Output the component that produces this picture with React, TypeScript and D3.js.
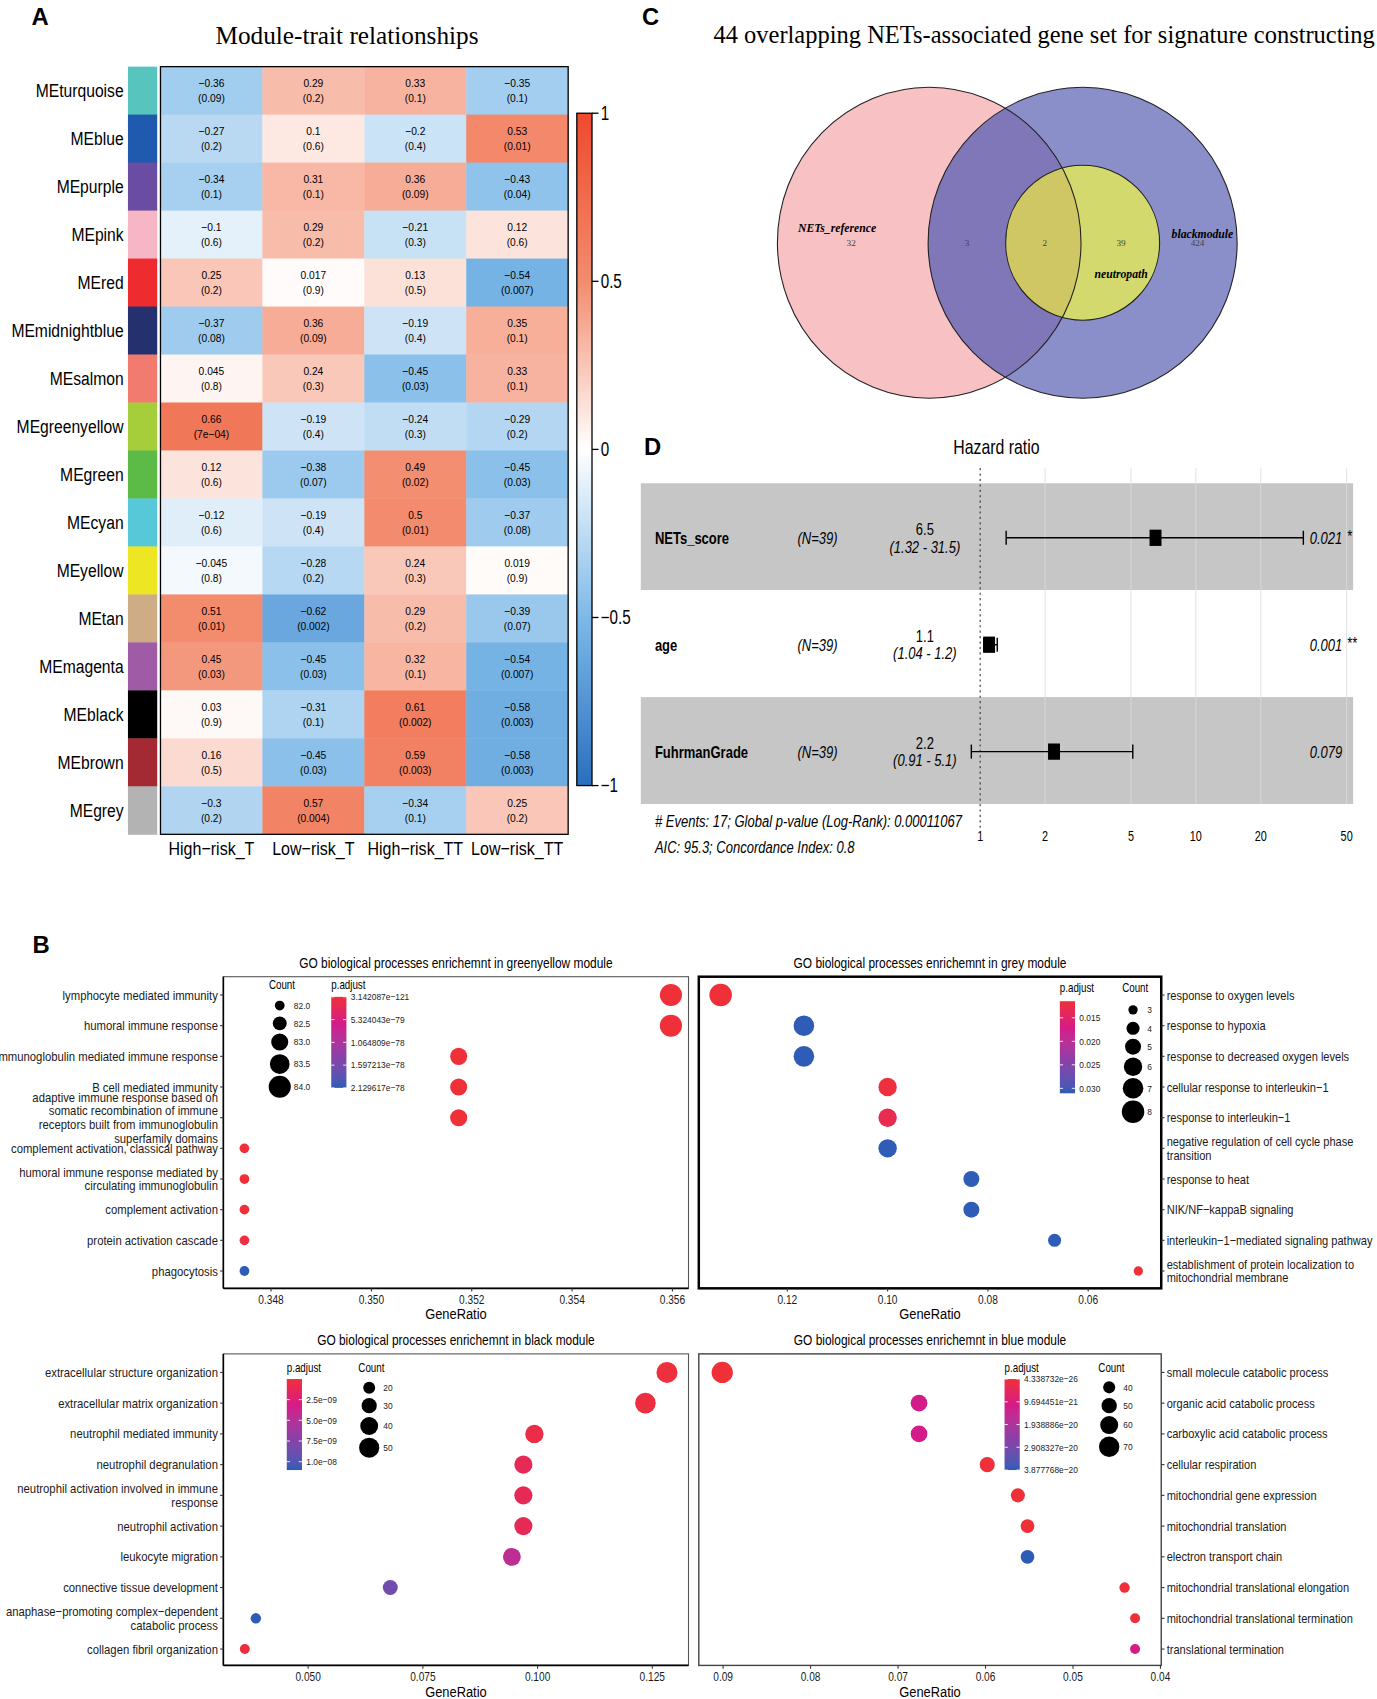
import React from "react";
import * as d3 from "d3";

const SANS = "'Liberation Sans', Arial, Helvetica, sans-serif";
const SERIF = "'Liberation Serif', 'Times New Roman', serif";
const W = 1270;
const H = 1568;

// ---------------- Panel A data ----------------
const modules = ["MEturquoise", "MEblue", "MEpurple", "MEpink", "MEred", "MEmidnightblue", "MEsalmon", "MEgreenyellow", "MEgreen", "MEcyan", "MEyellow", "MEtan", "MEmagenta", "MEblack", "MEbrown", "MEgrey"];
const moduleColors = ["#57C4BE", "#1F5AAE", "#6A4CA2", "#F6B6C6", "#EE2B2E", "#25306E", "#F27B70", "#A6CE3A", "#5CBA47", "#57C8D8", "#EDE623", "#CEAD86", "#A05BA6", "#000000", "#A32A32", "#B3B3B3"];
const traits = ["High−risk_T", "Low−risk_T", "High−risk_TT", "Low−risk_TT"];
const corValues = [
  [-0.36, 0.29, 0.33, -0.35],
  [-0.27, 0.1, -0.2, 0.53],
  [-0.34, 0.31, 0.36, -0.43],
  [-0.1, 0.29, -0.21, 0.12],
  [0.25, 0.017, 0.13, -0.54],
  [-0.37, 0.36, -0.19, 0.35],
  [0.045, 0.24, -0.45, 0.33],
  [0.66, -0.19, -0.24, -0.29],
  [0.12, -0.38, 0.49, -0.45],
  [-0.12, -0.19, 0.5, -0.37],
  [-0.045, -0.28, 0.24, 0.019],
  [0.51, -0.62, 0.29, -0.39],
  [0.45, -0.45, 0.32, -0.54],
  [0.03, -0.31, 0.61, -0.58],
  [0.16, -0.45, 0.59, -0.58],
  [-0.3, 0.57, -0.34, 0.25],
];
const pValues = [
  ["0.09", "0.2", "0.1", "0.1"],
  ["0.2", "0.6", "0.4", "0.01"],
  ["0.1", "0.1", "0.09", "0.04"],
  ["0.6", "0.2", "0.3", "0.6"],
  ["0.2", "0.9", "0.5", "0.007"],
  ["0.08", "0.09", "0.4", "0.1"],
  ["0.8", "0.3", "0.03", "0.1"],
  ["7e−04", "0.4", "0.3", "0.2"],
  ["0.6", "0.07", "0.02", "0.03"],
  ["0.6", "0.4", "0.01", "0.08"],
  ["0.8", "0.2", "0.3", "0.9"],
  ["0.01", "0.002", "0.2", "0.07"],
  ["0.03", "0.03", "0.1", "0.007"],
  ["0.9", "0.1", "0.002", "0.003"],
  ["0.5", "0.03", "0.003", "0.003"],
  ["0.2", "0.004", "0.1", "0.2"],
];
const heatLegendTicks = [1, 0.5, 0, -0.5, -1];

// ---------------- Panel C data ----------------
const vennSets = ["NETs_reference", "blackmodule", "neutropath"];
const vennCounts = { refOnly: 32, refBlack: 3, all: 2, blackNeutro: 39, blackOnly: 424 };

// ---------------- Panel D data ----------------
const forestVars = ["NETs_score", "age", "FuhrmanGrade"];
const forestN = [39, 39, 39];
const forestHR = [6.5, 1.1, 2.2];
const forestLo = [1.32, 1.04, 0.91];
const forestHi = [31.5, 1.2, 5.1];
const forestP = ["0.021", "0.001", "0.079"];
const forestStars = ["*", "**", ""];
const forestTicks = [1, 2, 5, 10, 20, 50];
const forestFooter = ["# Events: 17; Global p-value (Log-Rank): 0.00011067", "AIC: 95.3; Concordance Index: 0.8"];

// ---------------- Panel B data ----------------
const gyTerms = [
  "lymphocyte mediated immunity",
  "humoral immune response",
  "immunoglobulin mediated immune response",
  "B cell mediated immunity",
  "adaptive immune response based on\nsomatic recombination of immune\nreceptors built from immunoglobulin\nsuperfamily domains",
  "complement activation, classical pathway",
  "humoral immune response mediated by\ncirculating immunoglobulin",
  "complement activation",
  "protein activation cascade",
  "phagocytosis",
];
const gyRatio = [0.35597, 0.35597, 0.35174, 0.35174, 0.35174, 0.34747, 0.34747, 0.34747, 0.34747, 0.34747];
const gyCount = [84, 84, 83, 83, 83, 82, 82, 82, 82, 82];
const gyPadj = [3.142087e-121, 1.2e-110, 4.0e-100, 6.0e-98, 1.0e-95, 2.0e-85, 4.0e-84, 5.0e-82, 7.0e-80, 2.129617e-78];
const gyTicks = [0.348, 0.35, 0.352, 0.354, 0.356];
const gyCountBreaks = [82, 82.5, 83, 83.5, 84];
const gyPBreaks = [3.142087e-121, 5.324043e-79, 1.064809e-78, 1.597213e-78, 2.129617e-78];

const greyTerms = [
  "response to oxygen levels",
  "response to hypoxia",
  "response to decreased oxygen levels",
  "cellular response to interleukin−1",
  "response to interleukin−1",
  "negative regulation of cell cycle phase\ntransition",
  "response to heat",
  "NIK/NF−kappaB signaling",
  "interleukin−1−mediated signaling pathway",
  "establishment of protein localization to\nmitochondrial membrane",
];
const greyRatio = [0.1333, 0.1167, 0.1167, 0.1, 0.1, 0.1, 0.0833, 0.0833, 0.0667, 0.05];
const greyCount = [8, 7, 7, 6, 6, 6, 5, 5, 4, 3];
const greyPadj = [0.0115, 0.031, 0.031, 0.0118, 0.013, 0.031, 0.031, 0.031, 0.031, 0.0115];
const greyTicks = [0.12, 0.1, 0.08, 0.06];
const greyCountBreaks = [3, 4, 5, 6, 7, 8];
const greyPBreaks = [0.015, 0.02, 0.025, 0.03];

const blackTerms = [
  "extracellular structure organization",
  "extracellular matrix organization",
  "neutrophil mediated immunity",
  "neutrophil degranulation",
  "neutrophil activation involved in immune\nresponse",
  "neutrophil activation",
  "leukocyte migration",
  "connective tissue development",
  "anaphase−promoting complex−dependent\ncatabolic process",
  "collagen fibril organization",
];
const blackRatio = [0.1282, 0.1235, 0.0993, 0.0969, 0.0969, 0.0969, 0.0944, 0.0679, 0.0386, 0.0362];
const blackCount = [54, 52, 42, 41, 41, 41, 40, 29, 16, 15];
const blackPadj = [1.5e-10, 3.0e-10, 5.5e-10, 1.1e-9, 1.1e-9, 1.1e-9, 4.6e-9, 8.6e-9, 1.1e-8, 2.5e-10];
const blackTicks = [0.05, 0.075, 0.1, 0.125];
const blackCountBreaks = [20, 30, 40, 50];
const blackPBreaks = [2.5e-9, 5.0e-9, 7.5e-9, 1.0e-8];

const blueTerms = [
  "small molecule catabolic process",
  "organic acid catabolic process",
  "carboxylic acid catabolic process",
  "cellular respiration",
  "mitochondrial gene expression",
  "mitochondrial translation",
  "electron transport chain",
  "mitochondrial translational elongation",
  "mitochondrial translational termination",
  "translational termination",
];
const blueRatio = [0.0901, 0.0676, 0.0676, 0.0598, 0.0563, 0.0552, 0.0552, 0.0441, 0.0429, 0.0429];
const blueCount = [74, 55, 55, 49, 46, 45, 45, 36, 35, 35];
const bluePadj = [4.338732e-26, 1.16e-20, 1.16e-20, 1.0e-22, 1.0e-24, 1.0e-24, 3.877768e-20, 1.0e-22, 1.0e-22, 1.09e-20];
const blueTicks = [0.09, 0.08, 0.07, 0.06, 0.05, 0.04];
const blueCountBreaks = [40, 50, 60, 70];
const bluePBreaks = [4.338732e-26, 9.694451e-21, 1.938886e-20, 2.908327e-20, 3.877768e-20];

// ---------------- helpers ----------------
type TxtProps = {
  x: number; y: number; sx?: number; size: number; anchor?: string; weight?: string | number;
  italic?: boolean; fill?: string; family?: string; children: React.ReactNode;
};
function Txt({ x, y, sx = 1, size, anchor = "start", weight, italic, fill = "#000", family = SANS, children }: TxtProps) {
  return (
    <text
      transform={`translate(${x},${y}) scale(${sx},1)`}
      fontSize={size}
      textAnchor={anchor as any}
      fontWeight={weight as any}
      fontStyle={italic ? "italic" : "normal"}
      fill={fill}
      fontFamily={family}
      dy="0.35em"
    >
      {children}
    </text>
  );
}

const minus = (s: string) => s.replace(/-/g, "−");
const rExp = (digits: number) => (v: number) => {
  const [m, e] = v.toExponential(digits).split("e");
  const ev = parseInt(e, 10);
  const sign = ev < 0 ? "−" : "+";
  const abs = Math.abs(ev);
  return `${m}e${sign}${abs < 10 ? "0" + abs : abs}`;
};

const goColor = d3
  .scaleLinear<string>()
  .domain([0, 0.3, 0.65, 1])
  .range(["#EF3039", "#D41B8A", "#8A3FA8", "#2D5CB6"])
  .interpolate(d3.interpolateLab);

// ---------------- Panel A ----------------
function PanelA() {
  const x = d3.scaleBand<string>().domain(traits).range([148, 524]);
  const y = d3.scaleBand<string>().domain(modules).range([61.5, 770]);
  const color = d3
    .scaleLinear<string>()
    .domain([-1, -0.5, 0, 0.5, 1])
    .range(["#2A6FBE", "#7DB9E8", "#FFFFFF", "#F38C6E", "#EE4A2C"]);
  const yL = d3.scaleLinear().domain([-1, 1]).range([725, 104.5]);
  const stops = d3.range(0, 1.0001, 0.05);
  return (
    <g>
      <defs>
        <linearGradient id="heatGrad" x1="0" y1="0" x2="0" y2="1">
          {stops.map((t) => (
            <stop key={t} offset={t} stopColor={color(1 - 2 * t)} />
          ))}
        </linearGradient>
      </defs>
      <Txt x={29} y={15} size={22} weight="bold">A</Txt>
      <Txt x={320} y={32} size={23.3} anchor="middle" family={SERIF}>Module-trait relationships</Txt>
      {modules.map((m, i) => (
        <g key={m}>
          <rect x={118} y={y(m)!} width={27} height={y.bandwidth() + 0.4} fill={moduleColors[i]} />
          <Txt x={114} y={y(m)! + y.bandwidth() / 2} size={17} sx={0.85} anchor="end">{m}</Txt>
          {traits.map((t, j) => (
            <g key={t}>
              <rect x={x(t)!} y={y(m)!} width={x.bandwidth() + 0.4} height={y.bandwidth() + 0.4} fill={color(corValues[i][j])} />
              <Txt x={x(t)! + x.bandwidth() / 2} y={y(m)! + y.bandwidth() / 2 - 7} size={10.5} sx={0.9} anchor="middle">
                {minus(String(corValues[i][j]))}
              </Txt>
              <Txt x={x(t)! + x.bandwidth() / 2} y={y(m)! + y.bandwidth() / 2 + 7} size={10.5} sx={0.9} anchor="middle">
                {`(${pValues[i][j]})`}
              </Txt>
            </g>
          ))}
        </g>
      ))}
      <rect x={148} y={61.5} width={376} height={708.5} fill="none" stroke="#000" strokeWidth={1.2} />
      {traits.map((t) => (
        <Txt key={t} x={x(t)! + x.bandwidth() / 2} y={783} size={17} sx={0.87} anchor="middle">{t}</Txt>
      ))}
      <rect x={532} y={104.5} width={14} height={620.5} fill="url(#heatGrad)" stroke="#000" strokeWidth={1.2} />
      {heatLegendTicks.map((v) => (
        <g key={v}>
          <line x1={546} x2={552} y1={yL(v)} y2={yL(v)} stroke="#000" strokeWidth={1.2} />
          <Txt x={554} y={yL(v)} size={18} sx={0.78}>{minus(String(v))}</Txt>
        </g>
      ))}
    </g>
  );
}

// ---------------- Panel C ----------------
function PanelC() {
  const pink = { cx: 857, cy: 224, rx: 140, ry: 143.5 };
  const blue = { cx: 998.5, cy: 224, rx: 142.5, ry: 143.5 };
  const yel = { cx: 998.5, cy: 224, rx: 71, ry: 71.5 };
  return (
    <g>
      <defs>
        <clipPath id="clipPink">
          <ellipse {...pink} />
        </clipPath>
      </defs>
      <Txt x={592} y={15} size={22} weight="bold">C</Txt>
      <Txt x={963} y={32} size={22.6} anchor="middle" family={SERIF}>
        44 overlapping NETs-associated gene set for signature constructing
      </Txt>
      <ellipse {...pink} fill="#F8C1C4" />
      <ellipse {...blue} fill="#8A8FC9" />
      <ellipse {...blue} fill="#7F77B8" clipPath="url(#clipPink)" />
      <ellipse {...yel} fill="#D3D96D" />
      <ellipse {...yel} fill="#CFC764" clipPath="url(#clipPink)" />
      <ellipse {...pink} fill="none" stroke="#222" strokeWidth={1} />
      <ellipse {...blue} fill="none" stroke="#222" strokeWidth={1} />
      <ellipse {...yel} fill="none" stroke="#222" strokeWidth={1} />
      <Txt x={772} y={210} size={12} sx={0.9} anchor="middle" weight="bold" italic family={SERIF}>{vennSets[0]}</Txt>
      <Txt x={1109} y={215} size={12} sx={0.9} anchor="middle" weight="bold" italic family={SERIF}>{vennSets[1]}</Txt>
      <Txt x={1034} y={252} size={12} sx={0.9} anchor="middle" weight="bold" italic family={SERIF}>{vennSets[2]}</Txt>
      <Txt x={785} y={224} size={8.5} anchor="middle" fill="#444" family={SERIF}>{vennCounts.refOnly}</Txt>
      <Txt x={892} y={224} size={8.5} anchor="middle" fill="#444" family={SERIF}>{vennCounts.refBlack}</Txt>
      <Txt x={963.5} y={224} size={8.5} anchor="middle" fill="#444" family={SERIF}>{vennCounts.all}</Txt>
      <Txt x={1034} y={224} size={8.5} anchor="middle" fill="#444" family={SERIF}>{vennCounts.blackNeutro}</Txt>
      <Txt x={1104.5} y={224} size={8.5} anchor="middle" fill="#444" family={SERIF}>{vennCounts.blackOnly}</Txt>
    </g>
  );
}

// ---------------- Panel D ----------------
function PanelD() {
  const x = d3.scaleLog().domain([1, 50]).range([904, 1242]);
  const rows = d3.scaleBand<string>().domain(forestVars).range([446, 742]);
  const fs = 16;
  const sx = 0.75;
  return (
    <g>
      <Txt x={594} y={412} size={22} weight="bold">D</Txt>
      <Txt x={919} y={412} size={19} sx={0.77} anchor="middle">Hazard ratio</Txt>
      {forestVars.map((v, i) => (
        <rect key={v} x={591} y={rows(v)!} width={657} height={rows.bandwidth()} fill={i % 2 === 0 ? "#C6C6C6" : "#FFFFFF"} />
      ))}
      {forestTicks.slice(1).map((t) => (
        <line key={t} x1={x(t)} x2={x(t)} y1={432} y2={742} stroke="#DCDCDC" strokeWidth={0.8} />
      ))}
      <line x1={x(1)} x2={x(1)} y1={432} y2={766} stroke="#333" strokeWidth={1} strokeDasharray="2,3" />
      {forestVars.map((v, i) => {
        const cy = rows(v)! + rows.bandwidth() / 2 + 1;
        return (
          <g key={v}>
            <Txt x={604} y={cy} size={fs} sx={sx} weight="bold">{v}</Txt>
            <Txt x={754} y={cy} size={fs} sx={sx} anchor="middle" italic>{`(N=${forestN[i]})`}</Txt>
            <Txt x={853} y={cy - 8} size={fs} sx={sx} anchor="middle">{String(forestHR[i])}</Txt>
            <Txt x={853} y={cy + 8} size={fs} sx={sx} anchor="middle" italic>{`(${forestLo[i]} - ${forestHi[i]})`}</Txt>
            <line x1={x(forestLo[i])} x2={x(forestHi[i])} y1={cy} y2={cy} stroke="#000" strokeWidth={1.3} />
            <line x1={x(forestLo[i])} x2={x(forestLo[i])} y1={cy - 6.5} y2={cy + 6.5} stroke="#000" strokeWidth={1.3} />
            <line x1={x(forestHi[i])} x2={x(forestHi[i])} y1={cy - 6.5} y2={cy + 6.5} stroke="#000" strokeWidth={1.3} />
            <rect x={x(forestHR[i]) - 5.5} y={cy - 7.5} width={11} height={15} fill="#000" />
            <Txt x={1238} y={cy} size={fs} sx={sx} anchor="end" italic>{forestP[i]}</Txt>
            {forestStars[i] && <Txt x={1242} y={cy - 2} size={fs} sx={sx} italic>{forestStars[i]}</Txt>}
          </g>
        );
      })}
      {forestTicks.map((t) => (
        <Txt key={t} x={x(t)} y={772} size={13} sx={0.77} anchor="middle">{String(t)}</Txt>
      ))}
      <Txt x={604} y={758} size={15} sx={0.8} italic>{forestFooter[0]}</Txt>
      <Txt x={604} y={782} size={15} sx={0.8} italic>{forestFooter[1]}</Txt>
    </g>
  );
}

// ---------------- Panel B ----------------
type DotPanelProps = {
  id: string;
  title: string;
  terms: string[];
  ratio: number[];
  count: number[];
  padj: number[];
  xDomain: [number, number];
  ticks: number[];
  tickFmt: (v: number) => string;
  box: [number, number, number, number];
  yRange: [number, number];
  side: "left" | "right";
  frame: "axes" | "bold" | "thin";
  rRange: [number, number];
  cDomain: [number, number];
  countBreaks: number[];
  countFmt: (v: number) => string;
  countYs: number[];
  countX: number;
  pDomain: [number, number];
  pBreaks: number[];
  pFmt: (v: number) => string;
  padjX: number;
  legendTitleY: number;
  barY: [number, number];
};

function DotPanel(p: DotPanelProps) {
  const [x0, y0, x1, y1] = p.box;
  const x = d3.scaleLinear().domain(p.xDomain).range([x0, x1]);
  const y = d3.scalePoint<string>().domain(p.terms).range(p.yRange);
  const area = d3.scaleLinear().domain(p.cDomain).range([p.rRange[0] ** 2, p.rRange[1] ** 2]);
  const r = (c: number) => Math.sqrt(Math.max(1, area(c)));
  const pt = d3.scaleLinear().domain(p.pDomain).range([0, 1]).clamp(true);
  const barScale = d3.scaleLinear().domain(p.pDomain).range(p.barY);
  const LH = 12.6;
  const gradStops = d3.range(0, 1.0001, 0.05);
  const labelSx = p.side === "left" ? 0.87 : 0.85;
  return (
    <g>
      <defs>
        <linearGradient id={`grad-${p.id}`} x1="0" y1="0" x2="0" y2="1">
          {gradStops.map((t) => (
            <stop key={t} offset={t} stopColor={goColor(t)} />
          ))}
        </linearGradient>
      </defs>
      <Txt x={(x0 + x1) / 2} y={y0 - 12.5} size={12.8} sx={0.86} anchor="middle">{p.title}</Txt>
      {p.frame === "axes" && (
        <g>
          <rect x={x0} y={y0} width={x1 - x0} height={y1 - y0} fill="none" stroke="#555" strokeWidth={1} />
          <line x1={x0} x2={x0} y1={y0} y2={y1} stroke="#000" strokeWidth={1.5} />
          <line x1={x0} x2={x1} y1={y1} y2={y1} stroke="#000" strokeWidth={1.5} />
        </g>
      )}
      {p.frame === "bold" && <rect x={x0} y={y0} width={x1 - x0} height={y1 - y0} fill="none" stroke="#000" strokeWidth={2.3} />}
      {p.frame === "thin" && <rect x={x0} y={y0} width={x1 - x0} height={y1 - y0} fill="none" stroke="#444" strokeWidth={1.3} />}
      {p.terms.map((t) => {
        const lines = t.split("\n");
        const cy = y(t)!;
        const tx = p.side === "left" ? x0 : x1;
        return (
          <g key={t}>
            <line x1={tx} x2={p.side === "left" ? tx - 3 : tx + 3} y1={cy} y2={cy} stroke="#333" strokeWidth={1} />
            {lines.map((ln, k) => (
              <Txt
                key={k}
                x={p.side === "left" ? tx - 5 : tx + 5}
                y={cy - ((lines.length - 1) * LH) / 2 + k * LH}
                size={12}
                sx={labelSx}
                anchor={p.side === "left" ? "end" : "start"}
                fill="#1a1a1a"
              >
                {ln}
              </Txt>
            ))}
          </g>
        );
      })}
      {p.ticks.map((t) => (
        <g key={t}>
          <line x1={x(t)} x2={x(t)} y1={y1} y2={y1 + 3} stroke="#333" strokeWidth={1} />
          <Txt x={x(t)} y={y1 + 10} size={12} sx={0.78} anchor="middle" fill="#1a1a1a">{p.tickFmt(t)}</Txt>
        </g>
      ))}
      <Txt x={(x0 + x1) / 2} y={y1 + 24} size={13.5} sx={0.88} anchor="middle">GeneRatio</Txt>
      {p.terms.map((t, i) => (
        <circle key={t} cx={x(p.ratio[i])} cy={y(t)!} r={r(p.count[i])} fill={goColor(pt(p.padj[i]))} />
      ))}
      <Txt x={p.padjX} y={p.legendTitleY} size={11} sx={0.82}>p.adjust</Txt>
      <rect x={p.padjX} y={p.barY[0]} width={14} height={p.barY[1] - p.barY[0]} fill={`url(#grad-${p.id})`} />
      {p.pBreaks.map((b) => (
        <g key={b}>
          <line x1={p.padjX} x2={p.padjX + 3} y1={barScale(b)} y2={barScale(b)} stroke="#fff" strokeWidth={0.8} />
          <line x1={p.padjX + 11} x2={p.padjX + 14} y1={barScale(b)} y2={barScale(b)} stroke="#fff" strokeWidth={0.8} />
          <Txt x={p.padjX + 18} y={barScale(b)} size={8.6} sx={0.9} fill="#222">{p.pFmt(b)}</Txt>
        </g>
      ))}
      <Txt x={p.countX - 10} y={p.legendTitleY} size={11} sx={0.82}>Count</Txt>
      {p.countBreaks.map((c, k) => (
        <g key={c}>
          <circle cx={p.countX} cy={p.countYs[k]} r={r(c)} fill="#000" />
          <Txt x={p.countX + 13} y={p.countYs[k]} size={8.6} sx={0.9} fill="#222">{p.countFmt(c)}</Txt>
        </g>
      ))}
    </g>
  );
}

function PanelB() {
  return (
    <g>
      <Txt x={30} y={872} size={22} weight="bold">B</Txt>
      <DotPanel
        id="gy"
        title="GO biological processes enrichemnt in greenyellow module"
        terms={gyTerms}
        ratio={gyRatio}
        count={gyCount}
        padj={gyPadj}
        xDomain={[0.34705, 0.35632]}
        ticks={gyTicks}
        tickFmt={d3.format(".3f")}
        box={[206, 901.4, 635, 1189]}
        yRange={[918.3, 1173]}
        side="left"
        frame="axes"
        rRange={[4.5, 10.2]}
        cDomain={[82, 84]}
        countBreaks={gyCountBreaks}
        countFmt={d3.format(".1f")}
        countYs={[928, 944.5, 961.6, 982, 1003]}
        countX={258}
        pDomain={[3.142087e-121, 2.129617e-78]}
        pBreaks={gyPBreaks}
        pFmt={rExp(6)}
        padjX={305.5}
        legendTitleY={909}
        barY={[920, 1004]}
      />
      <DotPanel
        id="grey"
        title="GO biological processes enrichemnt in grey module"
        terms={greyTerms}
        ratio={greyRatio}
        count={greyCount}
        padj={greyPadj}
        xDomain={[0.13766, 0.04543]}
        ticks={greyTicks}
        tickFmt={d3.format(".2f")}
        box={[644.5, 901.4, 1071, 1189]}
        yRange={[918.3, 1173]}
        side="right"
        frame="bold"
        rRange={[4.3, 10.4]}
        cDomain={[3, 8]}
        countBreaks={greyCountBreaks}
        countFmt={d3.format("d")}
        countYs={[932, 949, 966, 984.5, 1004.4, 1026]}
        countX={1045}
        pDomain={[0.01147, 0.03105]}
        pBreaks={greyPBreaks}
        pFmt={d3.format(".3f")}
        padjX={977.5}
        legendTitleY={912}
        barY={[924, 1009]}
      />
      <DotPanel
        id="black"
        title="GO biological processes enrichemnt in black module"
        terms={blackTerms}
        ratio={blackRatio}
        count={blackCount}
        padj={blackPadj}
        xDomain={[0.03152, 0.13289]}
        ticks={blackTicks}
        tickFmt={d3.format(".3f")}
        box={[206, 1249.5, 635, 1537]}
        yRange={[1266.6, 1521.9]}
        side="left"
        frame="axes"
        rRange={[4.6, 9.7]}
        cDomain={[15, 54]}
        countBreaks={blackCountBreaks}
        countFmt={d3.format("d")}
        countYs={[1280.7, 1297.3, 1316, 1336.1]}
        countX={340.5}
        pDomain={[1e-11, 1.101e-8]}
        pBreaks={blackPBreaks}
        pFmt={rExp(1)}
        padjX={264.5}
        legendTitleY={1262}
        barY={[1272.7, 1356.7]}
      />
      <DotPanel
        id="blue"
        title="GO biological processes enrichemnt in blue module"
        terms={blueTerms}
        ratio={blueRatio}
        count={blueCount}
        padj={bluePadj}
        xDomain={[0.09278, 0.03991]}
        ticks={blueTicks}
        tickFmt={d3.format(".2f")}
        box={[644.5, 1249.5, 1071, 1537]}
        yRange={[1266.6, 1521.9]}
        side="right"
        frame="thin"
        rRange={[4.6, 9.8]}
        cDomain={[35, 74]}
        countBreaks={blueCountBreaks}
        countFmt={d3.format("d")}
        countYs={[1280.4, 1297.3, 1315.2, 1335.2]}
        countX={1023}
        pDomain={[4.338732e-26, 3.877768e-20]}
        pBreaks={bluePBreaks}
        pFmt={rExp(6)}
        padjX={926.5}
        legendTitleY={1262}
        barY={[1272.7, 1356.7]}
      />
    </g>
  );
}

export default function App() {
  return (
    <svg
      width={1377}
      height={1699}
      viewBox={`0 0 ${W} ${H}`}
      preserveAspectRatio="none"
      style={{ position: "absolute", left: 0, top: 0, background: "#fff" }}
    >
      <rect x={0} y={0} width={W} height={H} fill="#fff" />
      <PanelA />
      <PanelC />
      <PanelD />
      <PanelB />
    </svg>
  );
}
